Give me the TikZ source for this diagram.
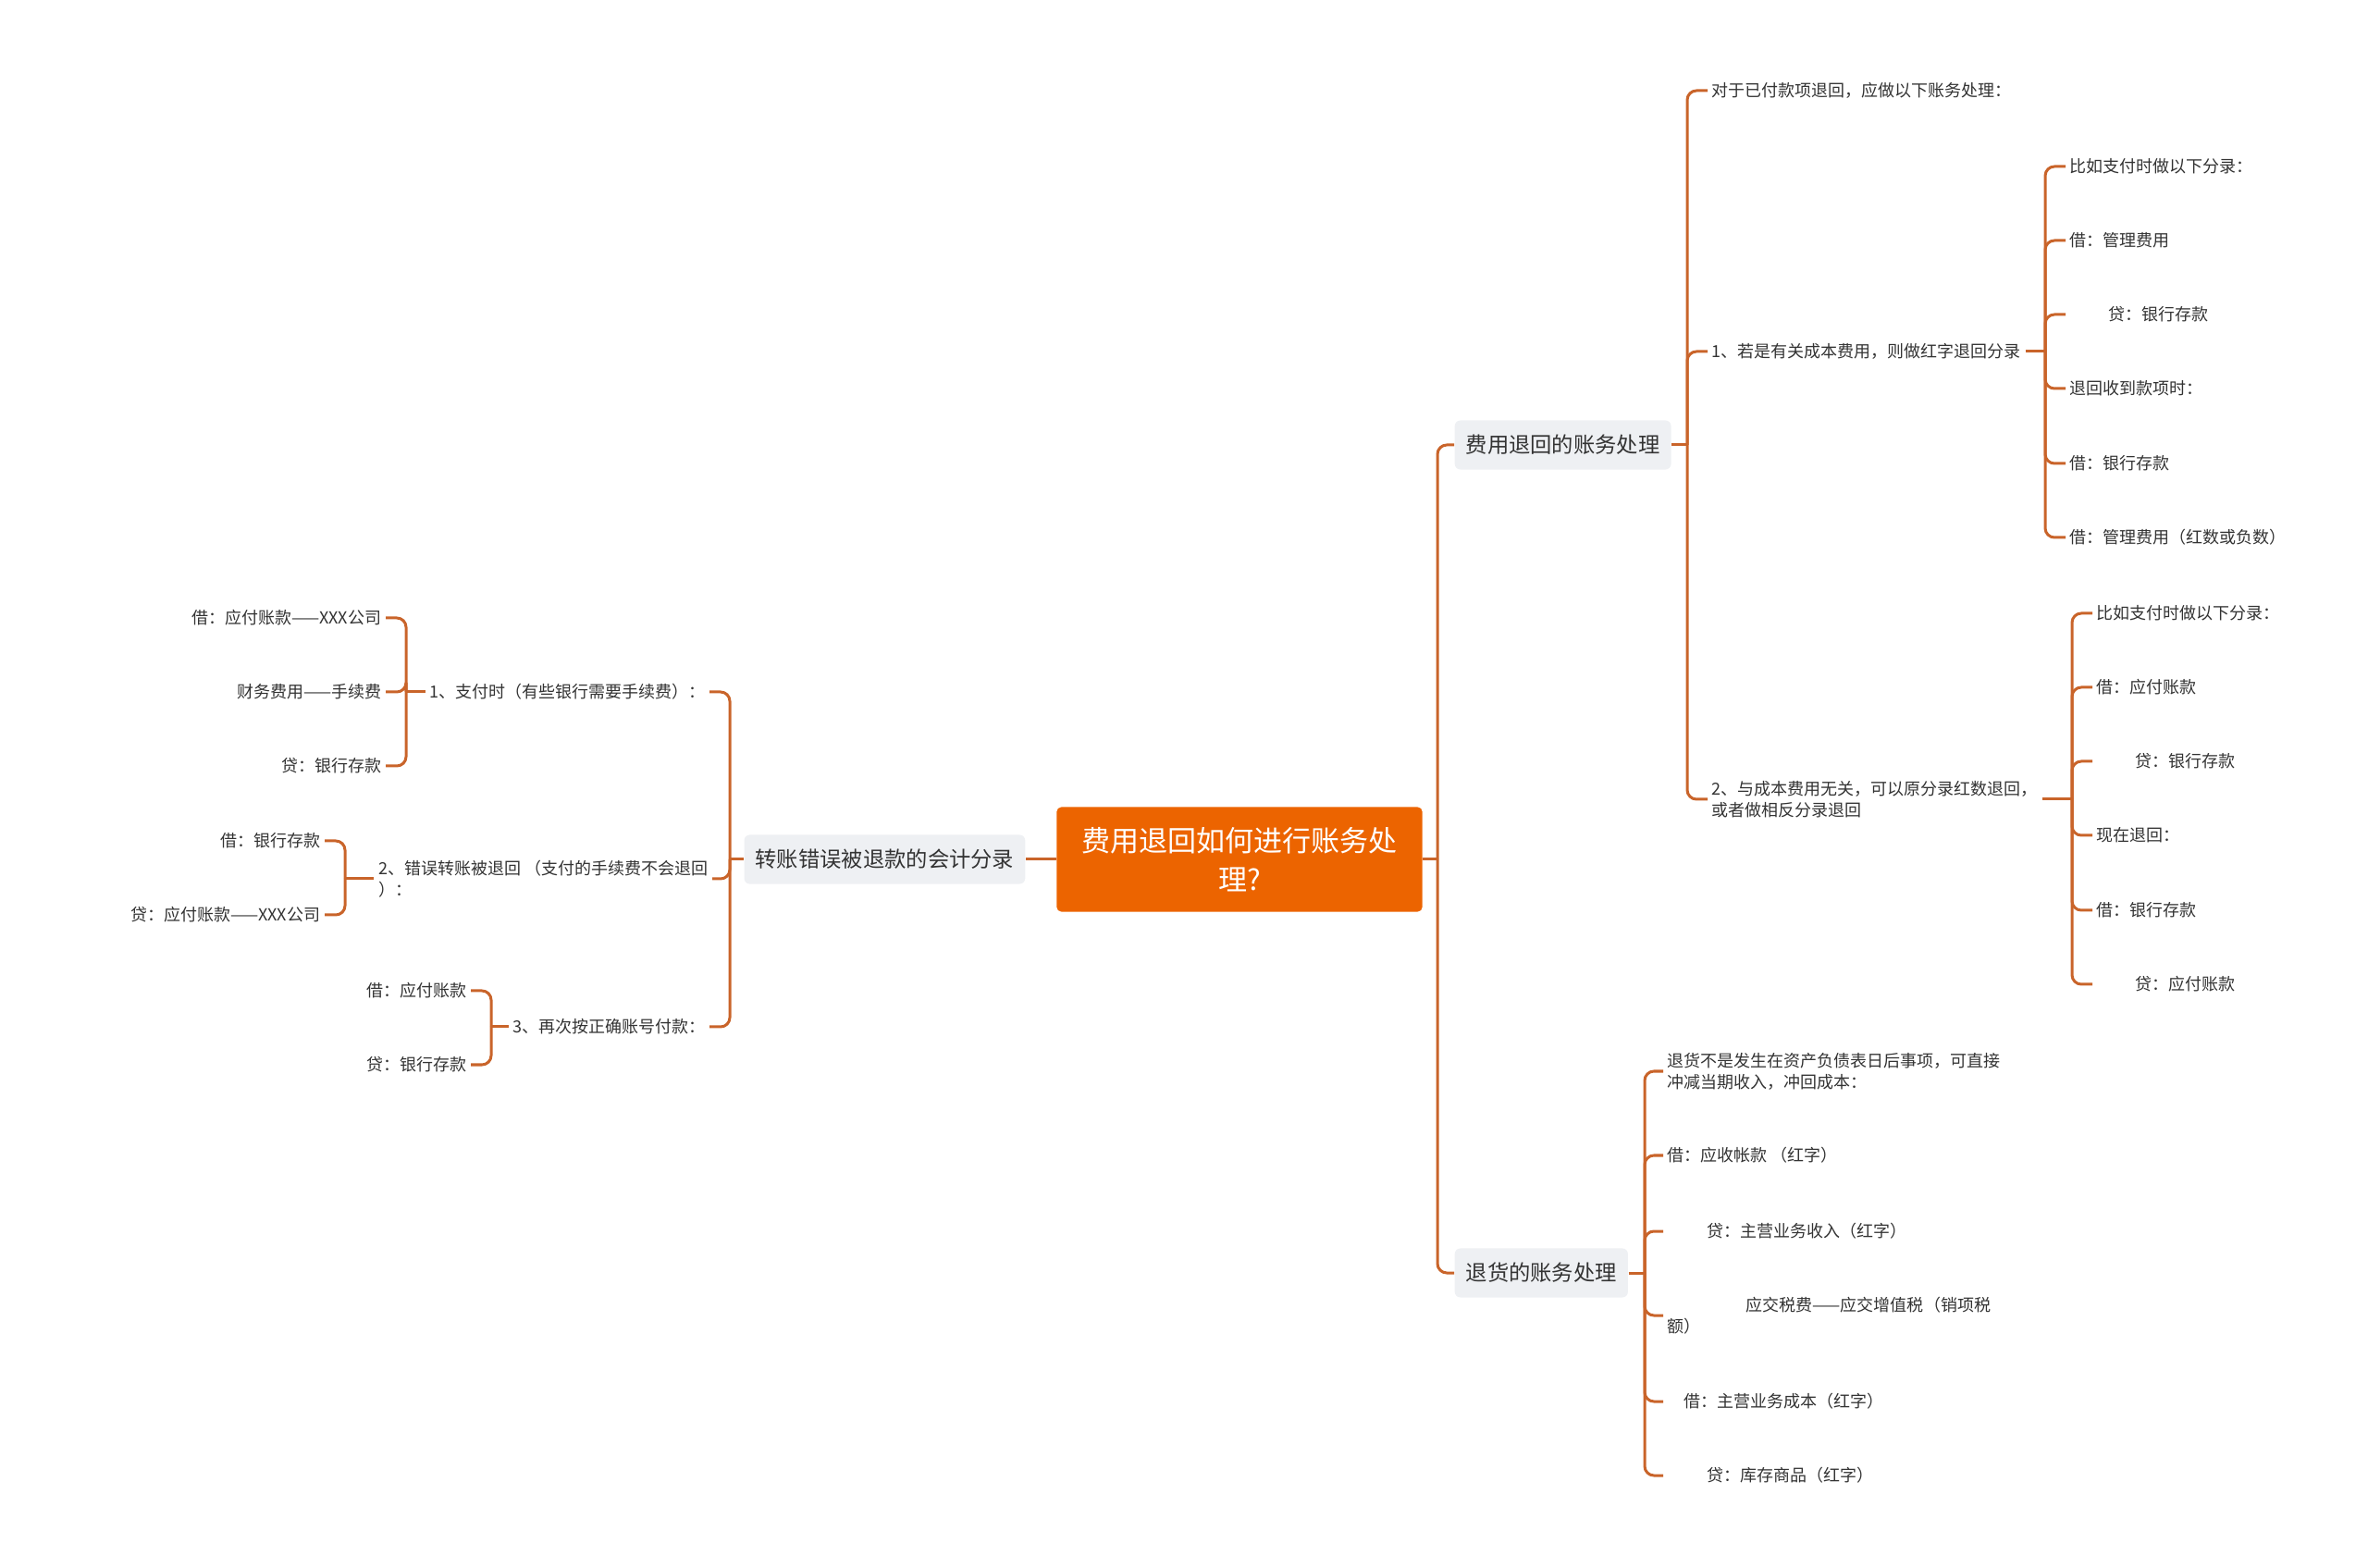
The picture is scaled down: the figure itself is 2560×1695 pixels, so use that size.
\documentclass[tikz,border=0pt]{standalone}
\usepackage{fontspec}
\setmainfont{Noto Sans CJK SC}
\usetikzlibrary{calc}
\definecolor{rootorange}{HTML}{EC6400}
\definecolor{linkbrown}{HTML}{C9642A}
\definecolor{topicgray}{HTML}{EEF0F3}
\definecolor{inkgray}{HTML}{333333}
\newcommand{\leaffont}{\fontsize{5.12pt}{6.55pt}\selectfont}
\newcommand{\topicfont}{\fontsize{6.63pt}{8pt}\selectfont}
\newcommand{\rootfont}{\fontsize{8.82pt}{11.95pt}\selectfont}

\begin{document}
\begin{tikzpicture}[x=0.01cm,y=-0.01cm,
  root/.style={fill=rootorange,text=white,rounded corners=0.05cm,minimum width=3.95cm,minimum height=1.13cm,align=center,font=\rootfont},
  topic/.style={fill=topicgray,text=inkgray,rounded corners=0.06cm,inner xsep=0.12cm,minimum height=0.53cm,font=\topicfont},
  leaf/.style={text=inkgray,inner sep=0.04cm,align=left,font=\leaffont},
  link/.style={draw=linkbrown,line width=0.03cm,rounded corners=0.1cm}]
\useasboundingbox (0,0) rectangle (2560,1695);

% main topics
\node[root] (C) at (1340,929) {费用退回如何进行账务处\\理?};
\node[topic,anchor=east] (L) at (1109,929) {转账错误被退款的会计分录};
\node[topic,anchor=west] (A) at (1572,481) {费用退回的账务处理};
\node[topic,anchor=west] (B) at (1572,1376) {退货的账务处理};
\coordinate (jR) at (1554,929);
\coordinate (jL) at (789,929);
\coordinate (jA) at (1824,481);
\coordinate (jB) at (1778,1376);

% 费用退回的账务处理
\node[leaf,anchor=west] (A1) at (1846,98) {对于已付款项退回，应做以下账务处理：};
\node[leaf,anchor=west] (A2) at (1846,380) {1、若是有关成本费用，则做红字退回分录};
\node[leaf,anchor=west] (A3) at (1846,864) {2、与成本费用无关，可以原分录红数退回，\\或者做相反分录退回};
\coordinate (jA2) at (2211,380);
\coordinate (jA3) at (2240,864);
\node[leaf,anchor=west] (A2a) at (2233,180) {比如支付时做以下分录：};
\node[leaf,anchor=west] (A2b) at (2233,260) {借：管理费用};
\node[leaf,anchor=west] (A2c) at (2233,340) {\hspace*{0.42cm}贷：银行存款};
\node[leaf,anchor=west] (A2d) at (2233,420) {退回收到款项时：};
\node[leaf,anchor=west] (A2e) at (2233,501) {借：银行存款};
\node[leaf,anchor=west] (A2f) at (2233,581) {借：管理费用（红数或负数）};
\node[leaf,anchor=west] (A3a) at (2262,663) {比如支付时做以下分录：};
\node[leaf,anchor=west] (A3b) at (2262,743) {借：应付账款};
\node[leaf,anchor=west] (A3c) at (2262,823) {\hspace*{0.42cm}贷：银行存款};
\node[leaf,anchor=west] (A3d) at (2262,903) {现在退回：};
\node[leaf,anchor=west] (A3e) at (2262,984) {借：银行存款};
\node[leaf,anchor=west] (A3f) at (2262,1064) {\hspace*{0.42cm}贷：应付账款};

% 退货的账务处理
\node[leaf,anchor=west] (B1) at (1798,1158) {退货不是发生在资产负债表日后事项，可直接\\冲减当期收入，冲回成本：};
\node[leaf,anchor=west] (B2) at (1798,1249) {借：应收帐款 （红字）};
\node[leaf,anchor=west] (B3) at (1798,1331) {\hspace*{0.43cm}贷：主营业务收入（红字）};
\node[leaf,anchor=west] (B4) at (1798,1422) {\hspace*{0.85cm}应交税费——应交增值税（销项税\\额）};
\node[leaf,anchor=west] (B5) at (1798,1515) {\hspace*{0.18cm}借：主营业务成本（红字）};
\node[leaf,anchor=west] (B6) at (1798,1595) {\hspace*{0.43cm}贷：库存商品（红字）};

% 转账错误被退款的会计分录
\node[leaf,anchor=east] (L1) at (767,748) {1、支付时（有些银行需要手续费）：};
\node[leaf,anchor=east] (L2) at (770,950) {2、错误转账被退回 （支付的手续费不会退回\\）：};
\node[leaf,anchor=east] (L3) at (767,1110) {3、再次按正确账号付款：};
\coordinate (jL1) at (439,748);
\coordinate (jL2) at (373,950);
\coordinate (jL3) at (531,1110);
\node[leaf,anchor=east] (L1a) at (417,668) {借：应付账款——XXX公司};
\node[leaf,anchor=east] (L1b) at (417,748) {财务费用——手续费};
\node[leaf,anchor=east] (L1c) at (417,828) {贷：银行存款};
\node[leaf,anchor=east] (L2a) at (351,909) {借：银行存款};
\node[leaf,anchor=east] (L2b) at (351,989) {贷：应付账款——XXX公司};
\node[leaf,anchor=east] (L3a) at (509,1071) {借：应付账款};
\node[leaf,anchor=east] (L3b) at (509,1151) {贷：银行存款};

% connectors
\draw[link] (L.east) -- (C.west);
\draw[link] (C.east) -- (jR);
\draw[link] (jR) |- (A.west);
\draw[link] (jR) |- (B.west);
\draw[link] (A.east) -- (jA);
\draw[link] (jA) |- (A1.west);
\draw[link] (jA) |- (A2.west);
\draw[link] (jA) |- (A3.west);
\draw[link] (A2.east) -- (jA2);
\draw[link] (jA2) |- (A2a.west);
\draw[link] (jA2) |- (A2b.west);
\draw[link] (jA2) |- (A2c.west);
\draw[link] (jA2) |- (A2d.west);
\draw[link] (jA2) |- (A2e.west);
\draw[link] (jA2) |- (A2f.west);
\draw[link] (A3.east) -- (jA3);
\draw[link] (jA3) |- (A3a.west);
\draw[link] (jA3) |- (A3b.west);
\draw[link] (jA3) |- (A3c.west);
\draw[link] (jA3) |- (A3d.west);
\draw[link] (jA3) |- (A3e.west);
\draw[link] (jA3) |- (A3f.west);
\draw[link] (B.east) -- (jB);
\draw[link] (jB) |- (B1.west);
\draw[link] (jB) |- (B2.west);
\draw[link] (jB) |- (B3.west);
\draw[link] (jB) |- (B4.west);
\draw[link] (jB) |- (B5.west);
\draw[link] (jB) |- (B6.west);
\draw[link] (L.west) -- (jL);
\draw[link] (jL) |- (L1.east);
\draw[link] (jL) |- (L2.east);
\draw[link] (jL) |- (L3.east);
\draw[link] (L1.west) -- (jL1);
\draw[link] (jL1) |- (L1a.east);
\draw[link] (jL1) |- (L1b.east);
\draw[link] (jL1) |- (L1c.east);
\draw[link] (L2.west) -- (jL2);
\draw[link] (jL2) |- (L2a.east);
\draw[link] (jL2) |- (L2b.east);
\draw[link] (L3.west) -- (jL3);
\draw[link] (jL3) |- (L3a.east);
\draw[link] (jL3) |- (L3b.east);
\end{tikzpicture}
\end{document}
